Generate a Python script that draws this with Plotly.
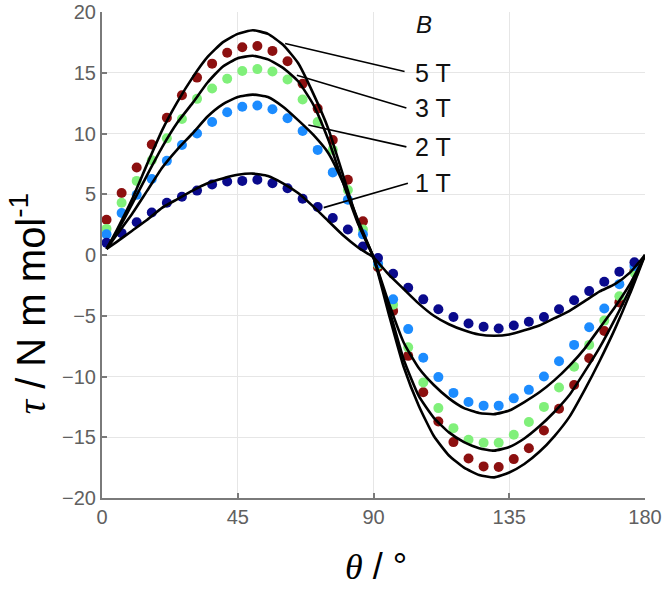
import plotly.graph_objects as go

# ---------------- data ----------------
theta_data = [1.5 + 5 * k for k in range(36)]

tau_5T = [2.9, 5.1, 7.2, 9.1, 11.3, 13.15, 14.6, 15.75, 16.65, 17.1, 17.2, 16.8,
          15.95, 14.1, 12.05, 9.47, 6.2, 2.77, -1.0, -4.6, -8.3, -11.3, -13.7, -15.4,
          -16.75, -17.4, -17.45, -16.8, -15.9, -14.45, -12.65, -10.7, -8.5, -6.25, -3.9, -1.3]
tau_3T = [2.15, 4.3, 6.1, 7.8, 9.6, 11.2, 12.85, 13.7, 14.5, 15.15, 15.3, 15.1,
          14.45, 12.8, 10.95, 8.65, 5.35, 2.1, -0.8, -4.1, -7.6, -10.5, -12.6, -14.25,
          -15.2, -15.45, -15.45, -14.8, -13.75, -12.5, -10.9, -9.2, -7.4, -5.4, -3.4, -1.45]
tau_2T = [1.7, 3.45, 4.95, 6.25, 7.75, 9.05, 10.0, 10.95, 11.75, 12.2, 12.3, 12.0,
          11.25, 10.2, 8.65, 6.8, 4.55, 1.7, -0.7, -3.65, -6.1, -8.45, -10.05, -11.35,
          -12.1, -12.4, -12.4, -11.8, -11.1, -10.0, -8.75, -7.4, -5.95, -4.4, -2.4, -0.9]
tau_1T = [1.0, 1.8, 2.7, 3.5, 4.3, 4.8, 5.3, 5.8, 6.05, 6.1, 6.2, 5.9,
          5.5, 4.63, 3.95, 3.05, 2.1, 0.7, -0.25, -1.55, -2.7, -3.65, -4.47, -5.1,
          -5.64, -5.9, -6.05, -5.8, -5.5, -5.1, -4.47, -3.73, -2.97, -2.2, -1.38, -0.6]

theta_fit = [1.5] + [5 * k for k in range(1, 37)]
fit_5T = [0.5, 2.1, 4.6, 7.5, 10.3, 12.6, 14.6, 16.3, 17.5, 18.2, 18.5, 18.2, 17.3,
          15.8, 13.3, 10.4, 6.5, 2.6, -0.2, -4.8, -9.2, -12.4, -14.9, -16.5, -17.5,
          -18.1, -18.3, -17.9, -17.2, -16.2, -14.9, -13.3, -11.1, -8.7, -6.1, -3.2, 0.0]
fit_3T = [0.5, 1.9, 4.2, 6.6, 8.9, 10.9, 12.5, 14.2, 15.5, 16.2, 16.4, 16.1, 15.4,
          14.3, 12.4, 9.5, 5.9, 2.5, -0.2, -4.3, -8.6, -11.6, -13.4, -14.6, -15.4,
          -15.9, -16.1, -15.8, -15.1, -14.1, -12.9, -11.5, -9.6, -7.6, -5.3, -2.8, 0.0]
fit_2T = [0.5, 1.7, 3.4, 5.3, 7.2, 8.7, 10.0, 11.4, 12.4, 13.0, 13.2, 13.0, 12.2,
          11.1, 9.9, 8.4, 5.9, 2.8, -0.2, -3.9, -7.2, -9.3, -10.7, -11.8, -12.6,
          -13.0, -13.1, -12.8, -12.1, -11.3, -10.3, -9.1, -7.7, -6.0, -4.3, -2.4, 0.0]
fit_1T = [0.5, 1.1, 2.0, 2.9, 3.9, 4.6, 5.3, 5.9, 6.3, 6.6, 6.7, 6.5, 5.9,
          5.1, 4.0, 2.8, 1.6, 0.6, -0.2, -1.6, -2.8, -4.0, -5.0, -5.7, -6.2,
          -6.55, -6.65, -6.55, -6.2, -5.8, -5.2, -4.6, -3.8, -3.0, -2.4, -1.45, 0.0]

field_labels = ["5 T", "3 T", "2 T", "1 T"]
label_tau = [15.0, 12.1, 8.9, 5.9]
label_theta = 103.0
leader_start = [(60.7, 17.4), (64.6, 14.8), (68.4, 10.7), (73.5, 3.9)]
leader_end = [(100.3, 15.1), (100.9, 12.1), (100.9, 8.9), (101.4, 5.9)]

x_ticks = [0, 45, 90, 135, 180]
y_ticks = [-20, -15, -10, -5, 0, 5, 10, 15, 20]

colors = ["#8c1010", "#80f07a", "#1c8cff", "#0a0a8c"]
series = [tau_5T, tau_3T, tau_2T, tau_1T]
fits = [fit_5T, fit_3T, fit_2T, fit_1T]

# ---------------- figure ----------------
fig = go.Figure()
for vals, col in zip(series, colors):
    fig.add_trace(go.Scatter(x=theta_data, y=vals, mode="markers",
                             marker=dict(color=col, size=10, line=dict(width=0)),
                             showlegend=False, cliponaxis=False))
for f in fits:
    fig.add_trace(go.Scatter(x=theta_fit, y=f, mode="lines",
                             line=dict(color="black", width=2.6, shape="spline", smoothing=0.5),
                             showlegend=False))

for (x0, y0), (x1, y1) in zip(leader_start, leader_end):
    fig.add_shape(type="line", x0=x0, y0=y0, x1=x1, y1=y1, xref="x", yref="y",
                  line=dict(color="black", width=1.6))

for lab, ty in zip(field_labels, label_tau):
    fig.add_annotation(x=label_theta, y=ty, text=lab, showarrow=False,
                       xanchor="left", yanchor="middle",
                       font=dict(family="Liberation Sans, Arial", size=25, color="#111"))
fig.add_annotation(x=103.5, y=19.0, text="<i>B</i>", showarrow=False,
                   xanchor="left", yanchor="middle",
                   font=dict(family="Liberation Sans, Arial", size=24, color="#111"))

# axis titles as annotations
fig.add_annotation(xref="paper", yref="paper", x=-0.135, y=0.40,
                   text="<span style='font-family:Liberation Serif'><i>τ</i></span> / N m mol<sup>-1</sup>",
                   textangle=-90, showarrow=False, xanchor="center", yanchor="middle",
                   font=dict(family="Liberation Sans, Arial", size=40, color="black"))
fig.add_annotation(xref="paper", yref="paper", x=0.505, y=-0.14,
                   text="<span style='font-family:Liberation Serif'><i>θ</i></span> / °",
                   showarrow=False, xanchor="center", yanchor="middle",
                   font=dict(family="Liberation Sans, Arial", size=36, color="black"))

axis_common = dict(showgrid=True, gridcolor="#e6e6e6", gridwidth=1, zeroline=False,
                   showline=True, linecolor="#7a7a7a", linewidth=2,
                   ticks="inside", ticklen=5, tickcolor="#7a7a7a", tickwidth=1.5,
                   automargin=False,
                   tickfont=dict(family="Liberation Sans, Arial", size=20, color="#606060"))
fig.update_xaxes(range=[0, 180], tickvals=x_ticks, **axis_common)
fig.update_yaxes(range=[-20, 20], tickvals=y_ticks, **axis_common)

fig.update_layout(width=666, height=589,
                  margin=dict(l=102, r=21, t=12, b=91, autoexpand=False),
                  plot_bgcolor="white", paper_bgcolor="white")

fig.write_html("out.html")
